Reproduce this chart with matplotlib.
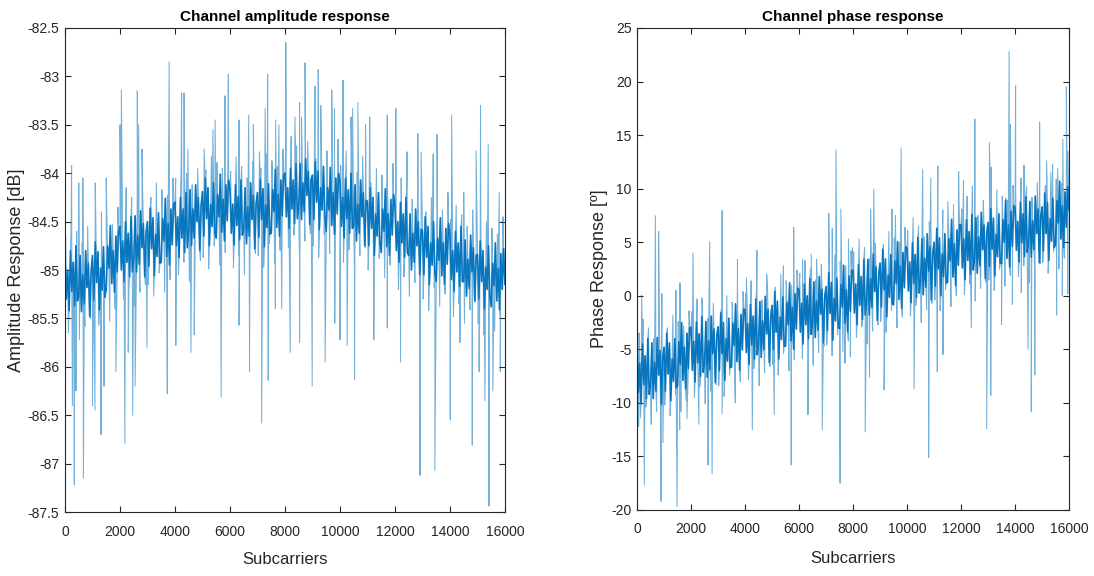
import numpy as np
import matplotlib
matplotlib.use("Agg")
import matplotlib.pyplot as plt

plt.rcParams['font.family'] = ['Liberation Sans', 'DejaVu Sans']
plt.rcParams['axes.unicode_minus'] = False

# ---------------- data ----------------
subcarrier_step = 50    # spacing of the hand-read core-trace samples
fringe_step = 100       # spacing of the hand-read outer-fringe samples
fringe_offset = 25

# amplitude [dB], core of the band, one row per 500 subcarriers (samples every 50)
amp_trace = [
    -84.85, -85.30, -85.00, -85.42, -84.80, -85.22, -84.92, -85.37, -84.75, -85.32,
    -85.28, -84.85, -85.43, -85.05, -85.35, -84.80, -85.18, -84.93, -85.48, -85.01,
    -84.85, -85.31, -84.71, -85.13, -84.81, -85.41, -84.98, -85.21, -84.76, -85.28,
    -85.20, -84.75, -84.98, -84.54, -85.14, -84.80, -85.23, -84.65, -85.02, -84.60,
    -84.55, -85.00, -84.70, -85.12, -84.50, -84.92, -84.62, -85.07, -84.45, -85.02,
    -84.87, -84.44, -85.02, -84.64, -84.94, -84.39, -84.77, -84.52, -85.07, -84.60,
    -84.50, -84.96, -84.36, -84.78, -84.46, -85.06, -84.63, -84.86, -84.41, -84.93,
    -84.92, -84.47, -84.70, -84.26, -84.86, -84.52, -84.95, -84.37, -84.74, -84.32,
    -84.30, -84.75, -84.45, -84.87, -84.25, -84.67, -84.37, -84.82, -84.20, -84.77,
    -84.60, -84.17, -84.75, -84.37, -84.67, -84.12, -84.50, -84.25, -84.80, -84.33,
    -84.19, -84.65, -84.05, -84.47, -84.15, -84.75, -84.32, -84.55, -84.10, -84.62,
    -84.67, -84.22, -84.45, -84.01, -84.61, -84.27, -84.70, -84.12, -84.49, -84.07,
    -84.17, -84.62, -84.32, -84.74, -84.12, -84.54, -84.24, -84.69, -84.07, -84.64,
    -84.58, -84.15, -84.73, -84.35, -84.65, -84.10, -84.48, -84.23, -84.78, -84.31,
    -84.20, -84.66, -84.06, -84.48, -84.16, -84.76, -84.33, -84.56, -84.11, -84.63,
    -84.62, -84.17, -84.40, -83.96, -84.56, -84.22, -84.65, -84.07, -84.44, -84.02,
    -84.00, -84.45, -84.15, -84.57, -83.95, -84.37, -84.07, -84.52, -83.90, -84.47,
    -84.33, -83.90, -84.48, -84.10, -84.40, -83.85, -84.23, -83.98, -84.53, -84.06,
    -84.02, -84.48, -83.88, -84.30, -83.98, -84.58, -84.15, -84.38, -83.93, -84.45,
    -84.60, -84.15, -84.38, -83.94, -84.54, -84.20, -84.63, -84.05, -84.42, -84.00,
    -84.10, -84.55, -84.25, -84.67, -84.05, -84.47, -84.17, -84.62, -84.00, -84.57,
    -84.55, -84.12, -84.70, -84.32, -84.62, -84.07, -84.45, -84.20, -84.75, -84.28,
    -84.29, -84.75, -84.15, -84.57, -84.25, -84.85, -84.42, -84.65, -84.20, -84.72,
    -84.82, -84.37, -84.60, -84.16, -84.76, -84.42, -84.85, -84.27, -84.64, -84.22,
    -84.35, -84.80, -84.50, -84.92, -84.30, -84.72, -84.42, -84.87, -84.25, -84.82,
    -84.85, -84.42, -85.00, -84.62, -84.92, -84.37, -84.75, -84.50, -85.05, -84.58,
    -84.59, -85.05, -84.45, -84.87, -84.55, -85.15, -84.72, -84.95, -84.50, -85.02,
    -85.12, -84.67, -84.90, -84.46, -85.06, -84.72, -85.15, -84.57, -84.94, -84.52,
    -84.65, -85.10, -84.80, -85.22, -84.60, -85.02, -84.72, -85.17, -84.55, -85.12,
    -85.12, -84.69, -85.27, -84.89, -85.19, -84.64, -85.02, -84.77, -85.32, -84.85,
    -84.84, -85.30, -84.70, -85.12, -84.80, -85.40, -84.97, -85.20, -84.75, -85.27,
    -85.38, -84.93, -85.16, -84.72, -85.32, -84.98, -85.41, -84.83, -85.20, -84.78,
    -85.15,
]
# amplitude [dB], light outer fringe, one row per 1000 subcarriers (samples every 100, offset 25)
amp_fringe = [
    -84.65, -85.65, -84.50, -85.52, -84.60, -85.72, -84.72, -85.58, -84.55, -85.50,
    -85.45, -84.55, -85.57, -84.40, -85.33, -84.47, -85.53, -84.53, -85.40, -84.35,
    -84.30, -85.30, -84.15, -85.17, -84.25, -85.37, -84.37, -85.23, -84.20, -85.15,
    -85.15, -84.25, -85.27, -84.10, -85.03, -84.17, -85.23, -84.23, -85.10, -84.05,
    -84.05, -85.05, -83.90, -84.92, -84.00, -85.12, -84.12, -84.98, -83.95, -84.90,
    -84.87, -83.97, -84.99, -83.82, -84.75, -83.89, -84.95, -83.95, -84.82, -83.77,
    -83.98, -84.98, -83.83, -84.85, -83.93, -85.05, -84.05, -84.91, -83.88, -84.83,
    -84.85, -83.95, -84.97, -83.80, -84.73, -83.87, -84.93, -83.93, -84.80, -83.75,
    -83.77, -84.77, -83.62, -84.64, -83.72, -84.84, -83.84, -84.70, -83.67, -84.62,
    -84.75, -83.85, -84.87, -83.70, -84.63, -83.77, -84.83, -83.83, -84.70, -83.65,
    -83.92, -84.92, -83.77, -84.79, -83.87, -84.99, -83.99, -84.85, -83.82, -84.77,
    -85.00, -84.10, -85.12, -83.95, -84.88, -84.02, -85.08, -84.08, -84.95, -83.90,
    -84.20, -85.20, -84.05, -85.07, -84.15, -85.27, -84.27, -85.13, -84.10, -85.05,
    -85.30, -84.40, -85.42, -84.25, -85.18, -84.32, -85.38, -84.38, -85.25, -84.20,
    -84.48, -85.48, -84.33, -85.35, -84.43, -85.55, -84.55, -85.41, -84.38, -85.33,
    -85.55, -84.65, -85.67, -84.50, -85.43, -84.57, -85.63, -84.63, -85.50, -84.45,
]
amp_peak_x = [240, 500, 650, 1100, 1500, 2000, 2050, 2630, 2680, 2800, 3790, 4240, 4330, 4470,
              5060, 5380, 5460, 5820, 5940, 6330, 6680, 6850, 7070, 7280, 7370, 7660, 7780, 8030,
              8360, 8530, 8600, 8730, 9090, 9210, 9300, 9700, 9800, 10110, 10400, 10460, 10650,
              10930, 11080, 11720, 12030, 12440, 12830, 12950, 13390, 13530, 14060, 14500, 14950,
              15110, 15390, 15790]
amp_peak_y = [-83.92, -84.1, -84.05, -84.1, -84.05, -83.5, -83.14, -83.15, -83.5, -83.75, -82.85,
              -83.17, -83.17, -83.75, -83.75, -83.55, -83.45, -83.2, -82.98, -83.45, -83.4, -83.5,
              -83.78, -83.33, -82.98, -83.45, -83.5, -82.65, -83.42, -83.27, -83.42, -82.86, -83.1,
              -82.93, -83.3, -83.14, -83.33, -83.04, -83.42, -83.33, -83.27, -83.5, -83.42, -83.4,
              -83.33, -83.78, -83.59, -83.78, -83.8, -83.6, -83.4, -84.2, -83.77, -83.3, -83.7, -84.2]
amp_dip_x = [270, 340, 400, 670, 1000, 1090, 1310, 1420, 1850, 2180, 2300, 2460, 2550, 2980, 3720,
             4030, 4580, 4700, 5680, 6330, 6710, 7150, 7390, 7650, 7880, 8190, 8530, 8990, 9460,
             9810, 10000, 10260, 10530, 11230, 11720, 12200, 12910, 13450, 14010, 14360, 14810,
             15060, 15270, 15420, 15560, 15830]
amp_dip_y = [-86.4, -87.22, -86.25, -87.15, -86.4, -86.45, -86.7, -86.2, -86.05, -86.79, -85.85,
             -86.5, -86.2, -85.8, -86.28, -85.78, -85.85, -85.67, -86.31, -85.57, -86.05, -86.58,
             -86.14, -85.4, -85.4, -85.85, -85.75, -86.2, -85.95, -85.55, -85.72, -85.78, -86.13,
             -85.72, -85.6, -85.95, -87.12, -87.07, -86.55, -85.75, -86.81, -86.05, -86.35, -87.44,
             -86.25, -86.05]

# phase [deg], core of the band, one row per 500 subcarriers (samples every 50)
ph_trace = [
    -5.0, -9.0, -6.3, -10.1, -4.5, -8.3, -5.6, -9.6, -4.0, -9.2,
    -8.3, -4.4, -9.6, -6.2, -8.9, -3.9, -7.4, -5.1, -10.1, -5.8,
    -4.8, -8.9, -3.5, -7.3, -4.4, -9.8, -5.9, -8.0, -4.0, -8.6,
    -8.4, -4.3, -6.4, -2.5, -7.9, -4.8, -8.7, -3.5, -6.8, -3.0,
    -2.95, -6.95, -4.25, -8.05, -2.45, -6.25, -3.55, -7.55, -1.95, -7.15,
    -6.3, -2.4, -7.6, -4.2, -6.9, -1.9, -5.4, -3.1, -8.1, -3.8,
    -2.9, -7.0, -1.6, -5.4, -2.5, -7.9, -4.0, -6.1, -2.1, -6.7,
    -6.65, -2.55, -4.65, -0.75, -6.15, -3.05, -6.95, -1.75, -5.05, -1.25,
    -1.3, -5.3, -2.6, -6.4, -0.8, -4.6, -1.9, -5.9, -0.3, -5.5,
    -4.45, -0.55, -5.75, -2.35, -5.05, -0.05, -3.55, -1.25, -6.25, -1.95,
    -0.9, -5.0, 0.4, -3.4, -0.5, -5.9, -2.0, -4.1, -0.1, -4.7,
    -4.7, -0.6, -2.7, 1.2, -4.2, -1.1, -5.0, 0.2, -3.1, 0.7,
    0.6, -3.4, -0.7, -4.5, 1.1, -2.7, 0.0, -4.0, 1.6, -3.6,
    -2.6, 1.3, -3.9, -0.5, -3.2, 1.8, -1.7, 0.6, -4.4, -0.1,
    0.85, -3.25, 2.15, -1.65, 1.25, -4.15, -0.25, -2.35, 1.65, -2.95,
    -3.05, 1.05, -1.05, 2.85, -2.55, 0.55, -3.35, 1.85, -1.45, 2.35,
    2.4, -1.6, 1.1, -2.7, 2.9, -0.9, 1.8, -2.2, 3.4, -1.8,
    -0.5, 3.4, -1.8, 1.6, -1.1, 3.9, 0.4, 2.7, -2.3, 2.0,
    3.05, -1.05, 4.35, 0.55, 3.45, -1.95, 1.95, -0.15, 3.85, -0.75,
    -0.85, 3.25, 1.15, 5.05, -0.35, 2.75, -1.15, 4.05, 0.75, 4.55,
    4.45, 0.45, 3.15, -0.65, 4.95, 1.15, 3.85, -0.15, 5.45, 0.25,
    1.4, 5.3, 0.1, 3.5, 0.8, 5.8, 2.3, 4.6, -0.4, 3.9,
    5.0, 0.9, 6.3, 2.5, 5.4, 0.0, 3.9, 1.8, 5.8, 1.2,
    1.25, 5.35, 3.25, 7.15, 1.75, 4.85, 0.95, 6.15, 2.85, 6.65,
    6.6, 2.6, 5.3, 1.5, 7.1, 3.3, 6.0, 2.0, 7.6, 2.4,
    3.4, 7.3, 2.1, 5.5, 2.8, 7.8, 4.3, 6.6, 1.6, 5.9,
    6.85, 2.75, 8.15, 4.35, 7.25, 1.85, 5.75, 3.65, 7.65, 3.05,
    3.0, 7.1, 5.0, 8.9, 3.5, 6.6, 2.7, 7.9, 4.6, 8.4,
    8.25, 4.25, 6.95, 3.15, 8.75, 4.95, 7.65, 3.65, 9.25, 4.05,
    4.9, 8.8, 3.6, 7.0, 4.3, 9.3, 5.8, 8.1, 3.1, 7.4,
    8.3, 4.2, 9.6, 5.8, 8.7, 3.3, 7.2, 5.1, 9.1, 4.5,
    4.8, 8.9, 6.8, 10.7, 5.3, 8.4, 4.5, 9.7, 6.4, 10.2,
    8.0,
]
# phase [deg], light outer fringe, one row per 1000 subcarriers (samples every 100, offset 25)
ph_fringe = [
    -3.4, -11.4, -2.2, -10.4, -3.0, -12.0, -4.0, -10.8, -2.6, -10.2,
    -10.2, -3.0, -11.2, -1.8, -9.2, -2.4, -10.8, -2.8, -9.8, -1.4,
    -1.5, -9.5, -0.3, -8.5, -1.1, -10.1, -2.1, -8.9, -0.7, -8.3,
    -8.4, -1.2, -9.4, 0.0, -7.4, -0.6, -9.0, -1.0, -8.0, 0.4,
    0.2, -7.8, 1.4, -6.8, 0.6, -8.4, -0.4, -7.2, 1.0, -6.6,
    -6.4, 0.8, -7.4, 2.0, -5.4, 1.4, -7.0, 1.0, -6.0, 2.4,
    2.1, -5.9, 3.3, -4.9, 2.5, -6.5, 1.5, -5.3, 2.9, -4.7,
    -4.6, 2.6, -5.6, 3.8, -3.6, 3.2, -5.2, 2.8, -4.2, 4.2,
    4.1, -3.9, 5.3, -2.9, 4.5, -4.5, 3.5, -3.3, 4.9, -2.7,
    -2.4, 4.8, -3.4, 6.0, -1.4, 5.4, -3.0, 5.0, -2.0, 6.4,
    6.1, -1.9, 7.3, -0.9, 6.5, -2.5, 5.5, -1.3, 6.9, -0.7,
    -0.4, 6.8, -1.4, 8.0, 0.6, 7.4, -1.0, 7.0, 0.0, 8.4,
    8.1, 0.1, 9.3, 1.1, 8.5, -0.5, 7.5, 0.7, 8.9, 1.3,
    1.5, 8.7, 0.5, 9.9, 2.5, 9.3, 0.9, 8.9, 1.9, 10.3,
    9.8, 1.8, 11.0, 2.8, 10.2, 1.2, 9.2, 2.4, 10.6, 3.0,
    3.1, 10.3, 2.1, 11.5, 4.1, 10.9, 2.5, 10.5, 3.5, 11.9,
]
ph_peak_x = [80, 170, 680, 800, 920, 1440, 1590, 2070, 2400, 2690, 3150, 3720, 4050, 4440, 4800,
             5420, 5800, 6130, 6450, 6650, 7100, 7230, 7370, 7550, 7830, 7980, 8650, 8770, 9440,
             9570, 9780, 9930, 10580, 10880, 11140, 11510, 11720, 11910, 12090, 12420, 12510,
             13050, 13110, 13660, 13780, 13830, 14020, 14330, 14910, 15170, 15390, 15580, 15770,
             15900, 15960]
ph_peak_y = [-3.5, 0.07, 7.47, 6.0, 0.2, 0.5, 1.2, 4.0, -0.2, 5.05, 7.94, 3.4, 1.7, 4.24, 2.0,
             2.8, 6.4, 3.4, 3.9, 3.4, 7.7, 6.3, 13.6, 8.1, 5.3, 4.5, 8.1, 9.97, 8.1, 7.5, 13.8,
             5.3, 11.8, 11.0, 12.1, 8.8, 8.5, 11.6, 10.8, 10.2, 16.5, 14.3, 12.0, 9.1, 22.8, 16.0,
             19.6, 12.2, 16.2, 12.6, 12.3, 11.9, 14.6, 19.5, 13.5]
ph_dip_x = [60, 270, 890, 960, 1480, 1580, 1850, 2290, 2630, 2780, 3150, 3640, 4270, 5080, 5710,
            6330, 6860, 7520, 7700, 7900, 8450, 8610, 9150, 10260, 10800, 11120, 11330, 12380,
            12950, 13100, 13500, 13900, 14230, 14480, 14600, 14730, 15540, 15750, 15950]
ph_dip_y = [-12.2, -17.67, -19.2, -13.7, -19.7, -12.5, -11.5, -12.0, -15.8, -16.6, -11.0, -10.0,
            -12.5, -11.1, -15.8, -11.1, -12.5, -17.5, -6.3, -5.7, -12.7, -7.6, -8.8, -8.7, -15.1,
            -7.1, -5.5, -3.0, -12.4, -9.3, -2.7, -0.8, 0.3, -5.0, -10.8, -7.4, -1.8, 0.0, 0.2]

x_ticks = [0, 2000, 4000, 6000, 8000, 10000, 12000, 14000, 16000]
amp_ticks = [-87.5, -87, -86.5, -86, -85.5, -85, -84.5, -84, -83.5, -83, -82.5]
amp_tick_labels = ['-87.5', '-87', '-86.5', '-86', '-85.5', '-85', '-84.5', '-84', '-83.5', '-83', '-82.5']
ph_ticks = [-20, -15, -10, -5, 0, 5, 10, 15, 20, 25]
ph_tick_labels = ['-20', '-15', '-10', '-5', '0', '5', '10', '15', '20', '25']

# ---------------- drawing ----------------
LINE = '#0072BD'
AXC = '#262626'


def merged(trace, fringe, px, py, dx, dy):
    gx = np.arange(len(trace)) * subcarrier_step
    fx = fringe_offset + np.arange(len(fringe)) * fringe_step
    x = np.concatenate([gx, fx, np.asarray(px, float), np.asarray(dx, float)])
    y = np.concatenate([np.asarray(trace, float), np.asarray(fringe, float),
                        np.asarray(py, float), np.asarray(dy, float)])
    order = np.argsort(x, kind='stable')
    return x[order], y[order]


def style(ax):
    ax.tick_params(direction='in', length=4, width=0.8, top=True, right=True,
                   labelsize=10, colors=AXC)
    ax.tick_params(axis='x', pad=9)
    ax.tick_params(axis='y', pad=4)
    for sp in ax.spines.values():
        sp.set_color(AXC)
        sp.set_linewidth(0.8)


def draw(ax, trace, fringe, px, py, dx, dy):
    x, y = merged(trace, fringe, px, py, dx, dy)
    ax.plot(x, y, color=LINE, lw=0.75, alpha=0.55)
    gx = np.arange(len(trace)) * subcarrier_step
    ax.plot(gx, trace, color=LINE, lw=1.2, alpha=0.95)


fig = plt.figure(figsize=(10.94, 5.76), dpi=100)
axL = fig.add_axes([0.0594, 0.1111, 0.4022, 0.8403])
axR = fig.add_axes([0.5823, 0.1146, 0.3949, 0.8368])

draw(axL, amp_trace, amp_fringe, amp_peak_x, amp_peak_y, amp_dip_x, amp_dip_y)
axL.set_xlim(0, 16000)
axL.set_ylim(-87.5, -82.5)
axL.set_xticks(x_ticks)
axL.set_xticklabels([str(t) for t in x_ticks])
axL.set_yticks(amp_ticks)
axL.set_yticklabels(amp_tick_labels)
style(axL)
axL.set_title('Channel amplitude response', fontsize=11, fontweight='bold', pad=5)
axL.set_xlabel('Subcarriers', fontsize=12, color=AXC)
axL.xaxis.set_label_coords(0.5, -0.083)
axL.set_ylabel('Amplitude Response [dB]', fontsize=13, color=AXC)
axL.yaxis.set_label_coords(-0.091, 0.5)

draw(axR, ph_trace, ph_fringe, ph_peak_x, ph_peak_y, ph_dip_x, ph_dip_y)
axR.set_xlim(0, 16000)
axR.set_ylim(-20, 25)
axR.set_xticks(x_ticks)
axR.set_xticklabels([str(t) for t in x_ticks])
axR.set_yticks(ph_ticks)
axR.set_yticklabels(ph_tick_labels)
style(axR)
axR.set_title('Channel phase response', fontsize=11, fontweight='bold', pad=5)
axR.set_xlabel('Subcarriers', fontsize=12, color=AXC)
axR.xaxis.set_label_coords(0.5, -0.085)
axR.set_ylabel('Phase Response [º]', fontsize=13, color=AXC)
axR.yaxis.set_label_coords(-0.067, 0.5)

fig.savefig('out.png', dpi=100, facecolor='white')
